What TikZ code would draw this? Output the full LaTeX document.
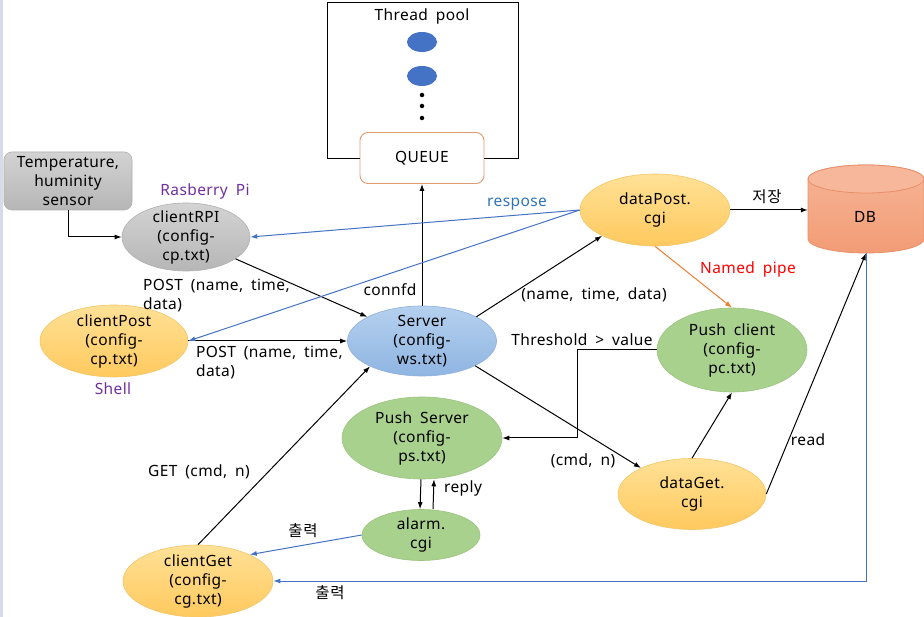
\documentclass[tikz,border=0pt]{standalone}
\usepackage{fontspec}
\setmainfont[WordSpace=1.8, LetterSpace=2.5]{Noto Sans}
\newfontfamily\krfont[LetterSpace=4]{Noto Sans CJK KR}
\usetikzlibrary{arrows.meta,shapes.geometric}
\definecolor{stripc}{HTML}{D5DCE8}
\definecolor{ballc}{HTML}{4472C4}
\definecolor{linkblue}{HTML}{4472C4}
\definecolor{pipeor}{HTML}{ED7D31}
\definecolor{queueor}{HTML}{E39A6E}
\definecolor{purp}{HTML}{7030A0}
\definecolor{respblue}{HTML}{2E75B6}
\definecolor{ortop}{HTML}{FFE196}
\definecolor{orbot}{HTML}{FFC95E}
\definecolor{orbd}{HTML}{F2C66A}
\definecolor{bltop}{HTML}{B5D0EE}
\definecolor{blbot}{HTML}{8FB5E2}
\definecolor{blbd}{HTML}{8EB0DC}
\definecolor{grtop}{HTML}{D3D3D3}
\definecolor{grbot}{HTML}{B6B6B6}
\definecolor{grbd}{HTML}{AFAFAF}
\definecolor{gnfill}{HTML}{A9D18E}
\definecolor{gnbd}{HTML}{9CC47F}
\definecolor{dbtop}{HTML}{F6B596}
\definecolor{dbbot}{HTML}{F29C75}
\definecolor{dbbd}{HTML}{E8906A}
\definecolor{dbend}{HTML}{F7B79A}
\tikzset{
  x=1pt, y=-1pt,
  every node/.style={font=\fontsize{15.5}{19}\selectfont, inner sep=0pt},
  txt/.style={align=center},
  ellnode/.style={ellipse, draw, line width=0.6pt, inner sep=0pt},
  graynode/.style={ellnode, draw=grbd, top color=grtop, bottom color=grbot},
  orangenode/.style={ellnode, draw=orbd, top color=ortop, bottom color=orbot},
  bluenode/.style={ellnode, draw=blbd, top color=bltop, bottom color=blbot},
  greennode/.style={ellnode, draw=gnbd, fill=gnfill},
  conn/.style={draw=black, line width=1pt, -{Latex[length=7pt,width=5pt]}},
  bconn/.style={draw=linkblue, line width=1pt, -{Latex[length=7pt,width=5pt]}},
  oconn/.style={draw=pipeor, line width=1pt, -{Latex[length=7pt,width=5pt]}},
  threadball/.style={ellipse, fill=ballc, minimum width=30pt, minimum height=20pt},
  tdot/.style={circle, fill=black, minimum size=4.5pt},
}
\begin{document}
\begin{tikzpicture}
\useasboundingbox (0,0) rectangle (924,617);
\fill[white] (0,0) rectangle (924,617);
\fill[stripc] (0,0) rectangle (3,617);

% Thread pool
\node[draw=queueor, line width=0.9pt, rounded corners=8pt, fill=white, minimum width=124pt, minimum height=51pt] (q) at (422,158) {QUEUE};
\draw[line width=0.8pt] (q.west) -- (327,158) -- (327,2) -- (518,2) -- (518,158) -- (q.east);
\node (tp) at (422,16) {Thread pool};
\node[threadball] (t1) at (422,42) {};
\node[threadball] (t2) at (422,76) {};
\node[tdot] (d1) at (422,95) {};
\node[tdot] (d2) at (422,106) {};
\node[tdot] (d3) at (422,118) {};

% Sensor box
\node[draw=grbd, line width=0.6pt, rounded corners=8pt, top color=grtop, bottom color=grbot, minimum width=128pt, minimum height=58pt] (tmp) at (68,181) {};
\node[txt] at (tmp) {Temperature,\\huminity\\sensor};

% Ellipses
\node[graynode, minimum width=128pt, minimum height=68pt] (rpi) at (186,237) {};
\node[txt] at (rpi) {clientRPI\\(config-\\cp.txt)};
\node[orangenode, minimum width=148pt, minimum height=72pt] (cpost) at (114,341) {};
\node[txt] at (cpost) {clientPost\\(config-\\cp.txt)};
\node[bluenode, minimum width=149pt, minimum height=70pt] (srv) at (422,341) {};
\node[txt] at (srv) {Server\\(config-\\ws.txt)};
\node[orangenode, minimum width=150pt, minimum height=72pt] (dp) at (655,210) {};
\node[txt] at (dp) {dataPost.\\cgi};
\node[greennode, minimum width=150pt, minimum height=84pt] (pc) at (732,350) {};
\node[txt] at (pc) {Push client\\(config-\\pc.txt)};
\node[greennode, minimum width=160pt, minimum height=82pt] (ps) at (422,438) {};
\node[txt] at (ps) {Push Server\\(config-\\ps.txt)};
\node[greennode, minimum width=118pt, minimum height=51pt] (al) at (421,535) {};
\node[txt] at (al) {alarm.\\cgi};
\node[orangenode, minimum width=148pt, minimum height=71pt] (dg) at (692,494) {};
\node[txt] at (dg) {dataGet.\\cgi};
\node[orangenode, minimum width=150pt, minimum height=72pt] (cg) at (198,581) {};
\node[txt] at (cg) {clientGet\\(config-\\cg.txt)};

% DB cylinder
\path[draw=dbbd, line width=0.8pt, top color=dbtop, bottom color=dbbot]
  (808,179) -- (808,239) arc[start angle=180, end angle=360, x radius=58pt, y radius=14pt] -- (924,179) arc[start angle=0, end angle=180, x radius=58pt, y radius=14pt] -- cycle;
\path[draw=dbbd, line width=0.8pt, fill=dbend] (866,179) ellipse[x radius=58pt, y radius=14pt];
\node[minimum width=116pt, minimum height=88pt] (db) at (866,209) {};
\node at (865,217) {DB};

% Connectors
\draw[conn] (srv.north) -- (q.south);
\draw[conn] (tmp.south) |- (rpi.west);
\draw[conn] (rpi) -- (srv);
\draw[conn] (cpost.east) -- (srv.west);
\draw[conn] (srv.24) -- (dp.-154);
\draw[bconn] (dp.west) -- (rpi.east);
\draw[bconn] (dp.west) -- (cpost.east);
\draw[conn] (dp.east) -- (db.west |- dp.east);
\draw[oconn] (dp.south) -- (pc.north);
\draw[conn] (pc.west) -- ++(-79,0) |- (ps.east);
\draw[conn] (srv.-25) -- (dg.153);
\draw[conn] (dg.north) -- (pc.south);
\draw[conn] (dg.east) -- (db.south);
\draw[bconn] (db.south) |- (cg.east);
\draw[conn] ([xshift=-1pt]ps.south) -- ([xshift=-1pt]al.north);
\draw[conn] ([xshift=12pt]al.north) -- ([xshift=12pt]ps.south);
\draw[bconn] (al.west) -- (cg.27);
\draw[conn] (cg.north) -- (srv.206);

% Labels
\node[text=purp] (lrpi) at (205,191) {Rasberry Pi};
\node[align=left, anchor=west] (lpost1) at (143,296) {POST (name, time,\\data)};
\node[text=purp] (lshell) at (113,389) {Shell};
\node[align=left, anchor=west] (lpost2) at (196,363) {POST (name, time,\\data)};
\node (lconn) at (390,290) {connfd};
\node[text=respblue] (lresp) at (517,204) {respose};
\node (lntd) at (594,295) {(name, time, data)};
\node (lsave) at (767,197) {\krfont 저장};
\node[text=red] (lpipe) at (748,269) {Named pipe};
\node (lthr) at (582,340) {Threshold > value};
\node (lcmd) at (583,461) {(cmd, n)};
\node (lreply) at (463,488) {reply};
\node (lread) at (808,440) {read};
\node (lget) at (199,472) {GET (cmd, n)};
\node (lout1) at (303,531) {\krfont 출력};
\node (lout2) at (330,593) {\krfont 출력};
\end{tikzpicture}
\end{document}
